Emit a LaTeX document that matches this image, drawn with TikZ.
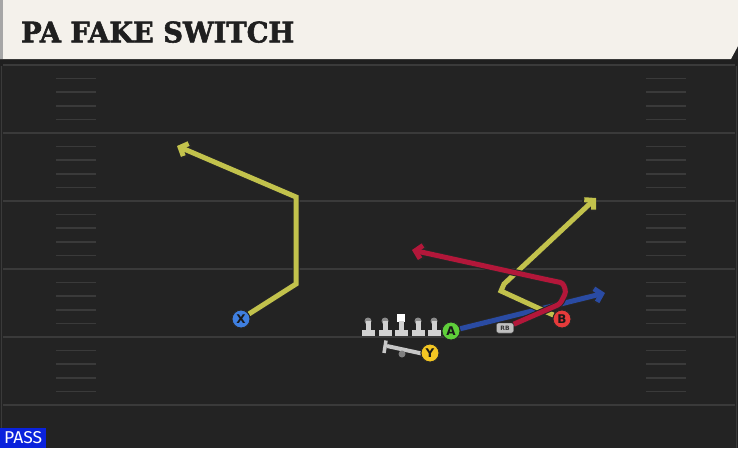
\documentclass[tikz,border=0pt]{standalone}
\usepackage{fontspec}
\setmainfont{DejaVu Sans}
\newfontfamily\titlefont[BoldFeatures={FakeBold=2}]{DejaVu Serif}
\newfontfamily\passfont{Fira Sans}
\usetikzlibrary{arrows.meta}
\definecolor{fieldbg}{HTML}{232323}
\definecolor{fieldline}{HTML}{3A3A3A}
\definecolor{hdr}{HTML}{F4F1EB}
\definecolor{rtyellow}{HTML}{C2C24C}
\definecolor{rtred}{HTML}{B3173A}
\definecolor{rtblue}{HTML}{2A4BA3}
\definecolor{plx}{HTML}{3F7FE0}
\definecolor{pla}{HTML}{5FCF3A}
\definecolor{plb}{HTML}{E63B3B}
\definecolor{ply}{HTML}{F3C623}
\definecolor{passblue}{HTML}{0A22DC}
\tikzset{
  player/.style={circle,draw=black!85,line width=0.9pt,minimum size=18pt,inner sep=0pt,font=\fontsize{12}{12}\selectfont\bfseries,text=black!90},
  rbbox/.style={draw=black!80,fill=black!25,rounded corners=2pt,minimum width=17pt,minimum height=10pt,inner sep=0pt,font=\fontsize{6}{6}\selectfont\bfseries,text=black!80},
  routeout/.style={line width=7pt,draw=black!85,line join=miter,-{Straight Barb[length=7pt,width=15pt]}},
  routein/.style={line width=5pt,line join=miter,-{Straight Barb[length=6.3pt,width=13.5pt]}},
  yardline/.style={draw=fieldline,line width=2pt},
  hashline/.style={draw=fieldline,line width=1.6pt},
}
\begin{document}
\begin{tikzpicture}[x=1pt,y=-1pt]
\useasboundingbox (0,0) rectangle (738,448);
% field
\fill[fieldbg] (0,0) rectangle (738,448);
\fill[black!88] (0,59) rectangle (738,66);
\draw[fieldline,line width=1pt] (736,66) -- (736,448);
\draw[fieldline,line width=1pt] (1,66) -- (1,448);
\foreach \yy in {65,133,201,269,337,405} {\draw[yardline] (3,\yy) -- (735,\yy);}
\foreach \b in {65,133,201,269,337} {
  \foreach \k in {1,2,3,4} {
    \draw[hashline] (56,\b+13.6*\k) -- (96,\b+13.6*\k);
    \draw[hashline] (646,\b+13.6*\k) -- (686,\b+13.6*\k);
  }
}
% header
\fill[hdr] (0,0) -- (738,0) -- (738,46) -- (731,59) -- (0,59) -- cycle;
\fill[black!35] (0,0) rectangle (3,59);
\node[anchor=south west,inner sep=0pt,text=black!88] (title) at (21,43) {\resizebox{273pt}{21pt}{\titlefont\bfseries PA FAKE SWITCH}};
% PASS label
\node[fill=passblue,anchor=south west,minimum width=46pt,minimum height=20pt,inner sep=0pt,text=white] (pass) at (0,448) {\raisebox{-1pt}{\resizebox{38pt}{12pt}{\passfont PASS}}};
% routes endpoints
\coordinate (xend) at (177,146);
\coordinate (bend) at (596,198);
\coordinate (aend) at (605,293);
\coordinate (rbend) at (412,250);
% linemen
\foreach \lx in {368,385,418,434} {
  \fill[black!45] (\lx,321) circle (3.5pt);
}
\fill[white] (397,314) rectangle (405,322);
\foreach \lx in {368,385,401,418,434} {
  \fill[black!18] (\lx-2.5,321) rectangle (\lx+2.5,331);
  \fill[black!18] (\lx-6.5,330) rectangle (\lx+6.5,336);
}
% Y block
\draw[black!22,line width=4pt] (387,346) -- (424,354);
\draw[black!22,line width=3.5pt] (386,340.5) -- (384,353);
\fill[black!50] (402,354) circle (3.5pt);
% players
\node[player,fill=plx] (X) at (241,319) {X};
\node[player,fill=pla] (A) at (451,331) {A};
\node[player,fill=plb] (B) at (562,319) {B};
\node[player,fill=ply] (Y) at (430,353) {Y};
\node[rbbox] (RB) at (505,328) {RB};
% routes
\draw[routeout] (X) -- (296,284) -- (296,197) -- (xend);
\draw[routein,rtyellow] (X) -- (296,284) -- (296,197) -- (xend);
\draw[routeout] (A) -- (aend);
\draw[routein,rtblue] (A) -- (aend);
\draw[routeout] (B) -- (501,291) -- (504,284) -- (bend);
\draw[routein,rtyellow] (B) -- (501,291) -- (504,284) -- (bend);
\draw[routeout,rounded corners=3pt] (RB) -- (560,304) -- (566,292) -- (563,283) -- (544,279) -- (rbend);
\draw[routein,rtred,rounded corners=3pt] (RB) -- (560,304) -- (566,292) -- (563,283) -- (544,279) -- (rbend);
% redraw players on top
\node[player,fill=plx] at (X) {X};
\node[player,fill=pla] at (A) {A};
\node[player,fill=plb] at (B) {B};
\node[player,fill=ply] at (Y) {Y};
\node[rbbox] at (RB) {RB};
\end{tikzpicture}
\end{document}
